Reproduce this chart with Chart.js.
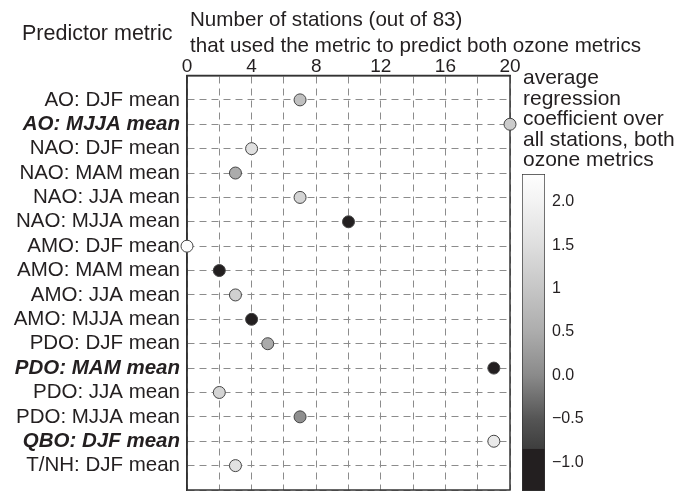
<!DOCTYPE html>
<html>
<head>
<meta charset="utf-8">
<script src="https://cdn.jsdelivr.net/npm/chart.js"></script>
<style>
  html, body { margin: 0; padding: 0; background: #fff; }
  #wrap { position: relative; width: 678px; height: 493px; overflow: hidden;
          font-family: "Liberation Sans", Arial, sans-serif; color: #231f20; }
  .txt { position: absolute; white-space: nowrap; }
  canvas { position: absolute; }
</style>
</head>
<body>
<div id="wrap">
  <canvas id="main" width="678" height="497" style="left:0;top:0"></canvas>
  <canvas id="cbar" width="166" height="329" style="left:512px;top:164px"></canvas>
  <div class="txt" style="left:22px;top:21px;font-size:21.5px;line-height:24px">Predictor metric</div>
  <div class="txt" style="left:190px;top:6px;font-size:20.6px;line-height:26px">Number of stations (out of 83)<br>that used the metric to predict both ozone metrics</div>
  <div class="txt" style="left:523px;top:67px;font-size:21px;line-height:20.5px">average<br>regression<br>coefficient over<br>all stations, both<br>ozone metrics</div>
</div>
<script>
/* Predictor metrics vs. number of stations, coloured by mean regression coefficient. */

const predictors = [
  'AO: DJF mean', 'AO: MJJA mean', 'NAO: DJF mean', 'NAO: MAM mean', 'NAO: JJA mean',
  'NAO: MJJA mean', 'AMO: DJF mean', 'AMO: MAM mean', 'AMO: JJA mean', 'AMO: MJJA mean',
  'PDO: DJF mean', 'PDO: MAM mean', 'PDO: JJA mean', 'PDO: MJJA mean', 'QBO: DJF mean',
  'T/NH: DJF mean'
];
const boldRows = ['AO: MJJA mean', 'PDO: MAM mean', 'QBO: DJF mean'];
const stationCounts = [7, 20, 4, 3, 7, 10, 0, 2, 3, 4, 5, 19, 2, 7, 19, 3];
const avgCoef = [0.88, 1.1, 1.55, 0.5, 1.3, -1.0, 2.3, -1.0, 1.2, -1.0, 0.47, -1.0, 1.3, 0.07, 1.78, 1.6];

const cbarTicks  = [2, 1.5, 1, 0.5, 0, -0.5, -1];
const cbarLabels = ['2.0', '1.5', '1', '0.5', '0.0', '\u22120.5', '\u22121.0'];
const cbarRange  = [-1.33, 2.32];

// grey ramp of the colour bar: [value, grey level]
const cmap = [[-1.4, 35], [-0.85, 35], [-0.84, 62], [-0.5, 85], [0, 138], [0.5, 172],
              [1, 198], [1.5, 222], [2, 243], [2.35, 255]];

function greyOf(v) {
  if (v <= cmap[0][0]) return 'rgb(35,31,32)';
  for (let i = 1; i < cmap.length; i++) {
    if (v <= cmap[i][0]) {
      const [v0, g0] = cmap[i-1], [v1, g1] = cmap[i];
      const g = Math.round(g0 + (g1 - g0) * (v - v0) / (v1 - v0));
      return g <= 35 ? 'rgb(35,31,32)' : `rgb(${g},${g},${g})`;
    }
  }
  return 'rgb(255,255,255)';
}

const INK = '#231f20';
const GRID = '#8c8c8c';

// no extra room for half-labels at the axis ends
const noEndPad = s => { s.paddingTop = 0; s.paddingBottom = 0; s.paddingLeft = 0; s.paddingRight = 0; };

const boxPlugin = {
  id: 'box',
  beforeDatasetsDraw(chart) {
    const { ctx, chartArea: a } = chart;
    ctx.save();
    ctx.strokeStyle = '#333';
    ctx.lineWidth = 1.5;
    ctx.strokeRect(a.left, a.top, a.right - a.left, a.bottom - a.top);
    ctx.restore();
  }
};

new Chart(document.getElementById('main'), {
  type: 'scatter',
  data: {
    datasets: [{
      data: stationCounts.map((c, i) => ({ x: c, y: i + 1 })),
      pointRadius: 6,
      pointHoverRadius: 6,
      pointBackgroundColor: avgCoef.map(greyOf),
      pointBorderColor: '#444',
      pointBorderWidth: 1,
      clip: false
    }]
  },
  options: {
    responsive: false,
    animation: false,
    events: [],
    layout: { padding: { left: 0, top: 0, right: 168, bottom: 2.5 } },
    plugins: { legend: { display: false }, tooltip: { enabled: false } },
    scales: {
      x: {
        position: 'top', min: 0, max: 20,
        afterFit: s => { s.height = 75.5; noEndPad(s); },
        ticks: {
          stepSize: 2, maxTicksLimit: 100, maxRotation: 0, padding: -3,
          callback: v => (v % 4 === 0 ? v : ''),
          color: INK,
          font: { family: '"Liberation Sans Narrow", "Liberation Sans", sans-serif', size: 19 }
        },
        grid: { color: GRID, lineWidth: 1, drawTicks: false },
        border: { display: true, color: '#333', width: 1.5, dash: [7, 5] }
      },
      y: {
        min: 0, max: 17, reverse: true,
        afterFit: s => { s.width = 187; noEndPad(s); },
        ticks: {
          stepSize: 1, maxTicksLimit: 100, autoSkip: false, padding: 7,
          callback: v => predictors[v - 1] || '',
          color: INK,
          font: ctx => {
            const lab = predictors[(ctx.tick ? ctx.tick.value : 0) - 1];
            return boldRows.includes(lab)
              ? { family: '"Liberation Sans", sans-serif', size: 20.5, style: 'italic', weight: 'bold' }
              : { family: '"Liberation Sans", sans-serif', size: 20.5 };
          }
        },
        grid: { color: GRID, lineWidth: 1, drawTicks: false },
        border: { display: true, color: '#333', width: 1.5, dash: [7, 5] }
      }
    }
  },
  plugins: [boxPlugin]
});

// Colour bar
new Chart(document.getElementById('cbar'), {
  type: 'bar',
  data: {
    labels: [''],
    datasets: [{
      data: [cbarRange],
      barPercentage: 1,
      categoryPercentage: 1,
      borderWidth: 1,
      borderColor: '#333',
      borderSkipped: false,
      backgroundColor: (c) => {
        const chart = c.chart;
        if (!chart.chartArea) return '#888';
        const y = chart.scales.y;
        const y0 = y.getPixelForValue(cbarRange[0]), y1 = y.getPixelForValue(cbarRange[1]);
        const g = chart.ctx.createLinearGradient(0, y0, 0, y1);
        cmap.forEach(([v]) => {
          const t = (v - cbarRange[0]) / (cbarRange[1] - cbarRange[0]);
          if (t >= 0 && t <= 1) g.addColorStop(t, greyOf(v));
        });
        g.addColorStop(0, greyOf(cbarRange[0]));
        g.addColorStop(1, greyOf(cbarRange[1]));
        return g;
      }
    }]
  },
  options: {
    responsive: false,
    animation: false,
    events: [],
    layout: { padding: { left: 10, top: 10, right: 0, bottom: 2 } },
    plugins: { legend: { display: false }, tooltip: { enabled: false } },
    scales: {
      x: { display: false },
      y: {
        position: 'right', min: cbarRange[0], max: cbarRange[1],
        afterFit: s => { s.width = 133; noEndPad(s); },
        afterBuildTicks: s => { s.ticks = cbarTicks.map(v => ({ value: v })); },
        ticks: {
          padding: 7, color: INK,
          callback: v => cbarLabels[cbarTicks.indexOf(v)],
          font: { family: '"Liberation Sans", sans-serif', size: 16 }
        },
        grid: { drawOnChartArea: false, drawTicks: false },
        border: { display: false }
      }
    }
  }
});
</script>
</body>
</html>
